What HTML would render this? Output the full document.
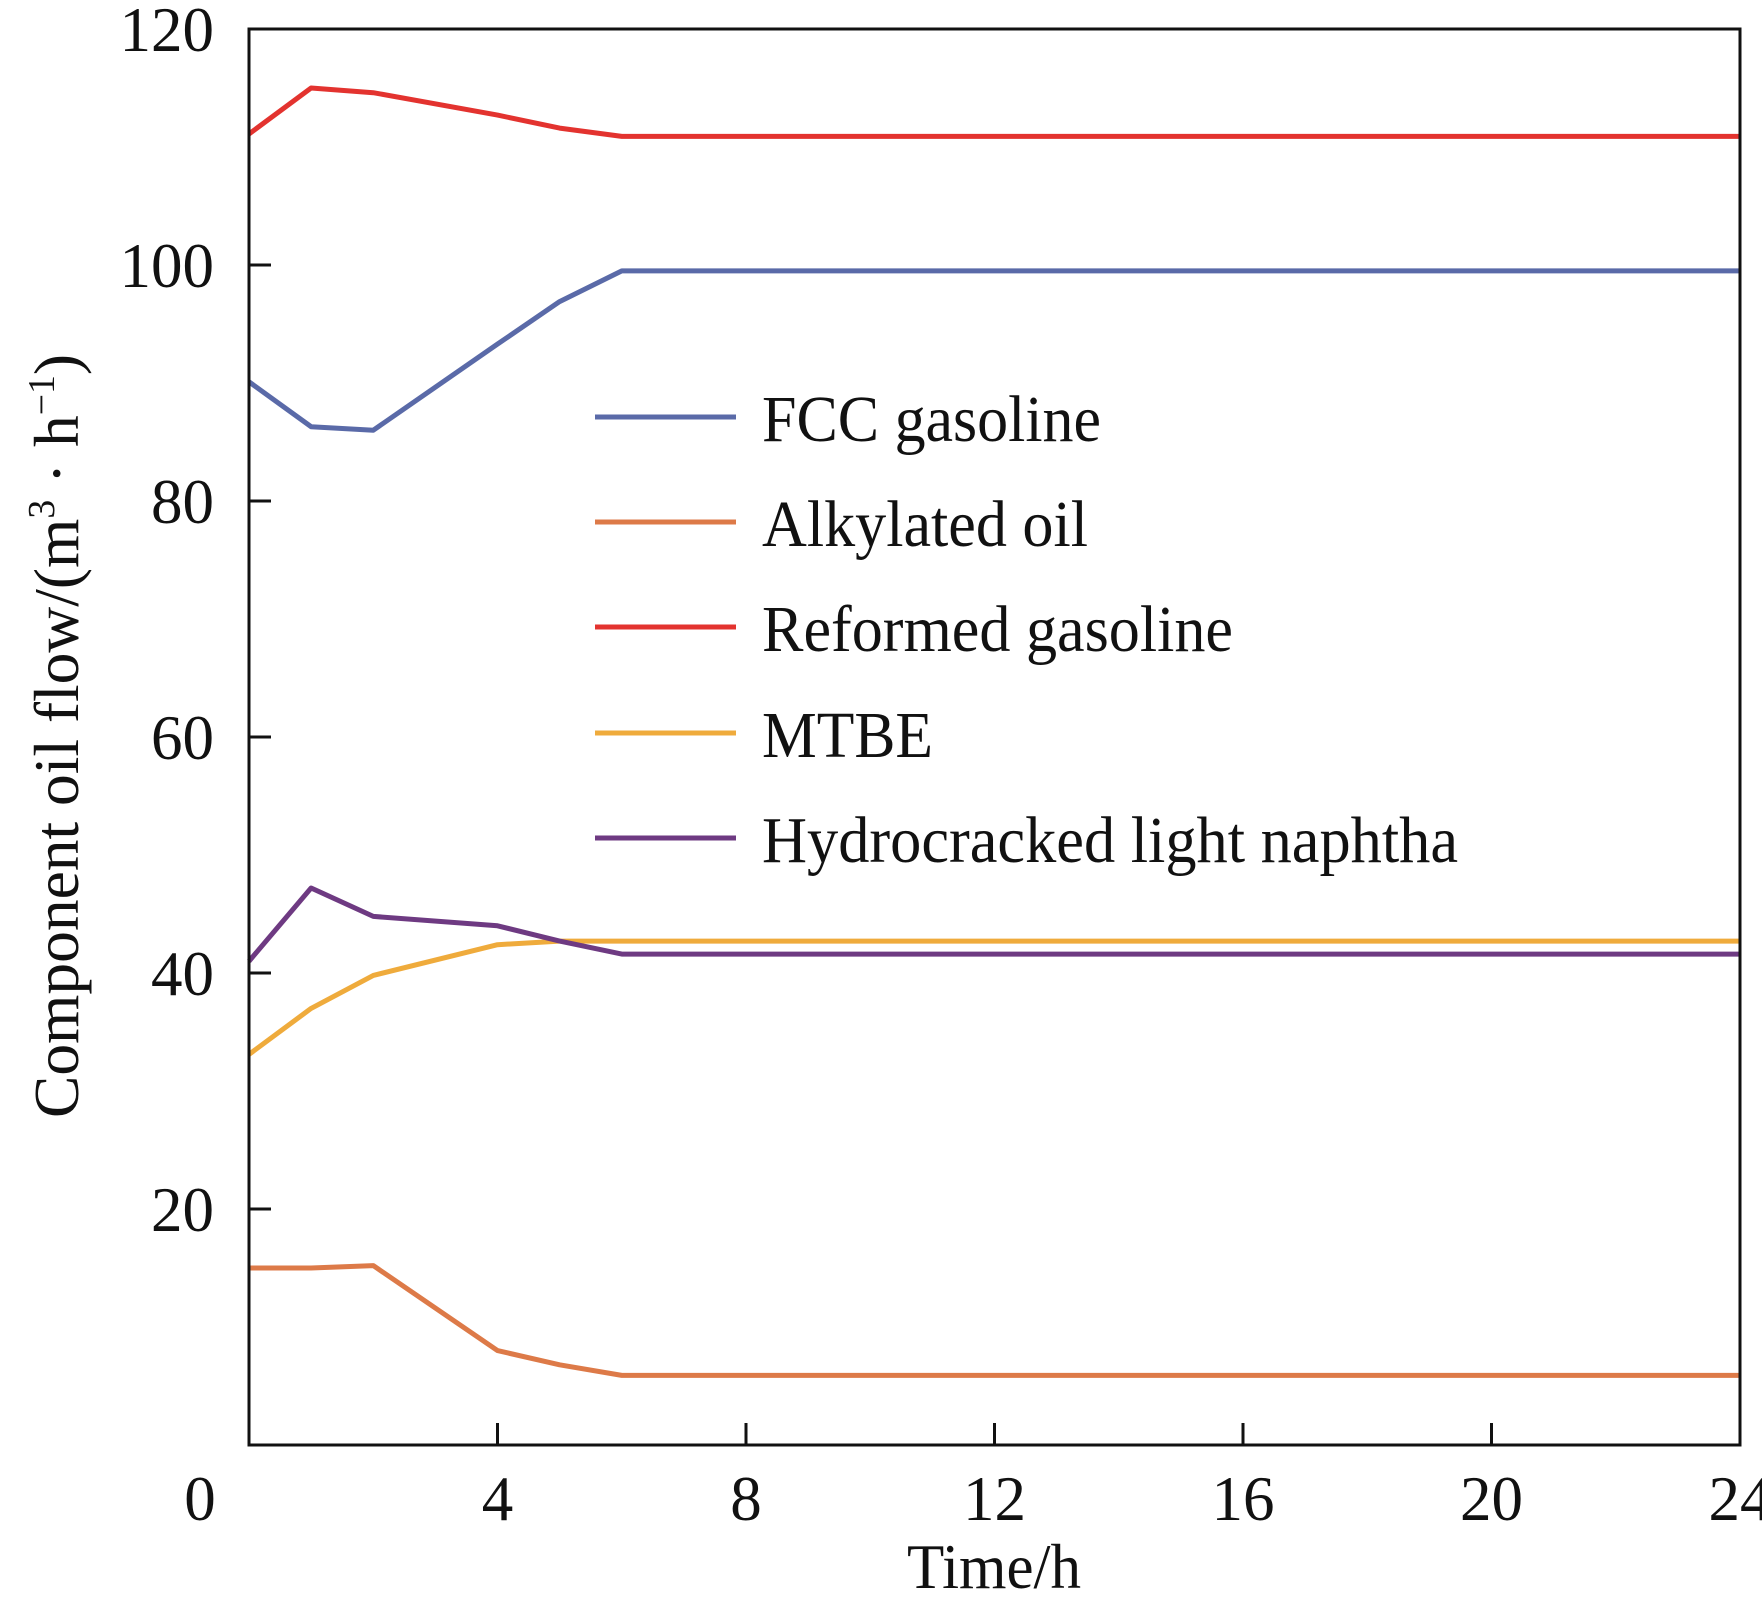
<!DOCTYPE html>
<html><head><meta charset="utf-8"><style>
html,body{margin:0;padding:0;background:#fff;}
svg{display:block;font-family:"Liberation Serif",serif;}
</style></head><body>
<svg id="chart" width="1762" height="1607" viewBox="0 0 1762 1607" xmlns="http://www.w3.org/2000/svg">
<g id="series"></g>
<g id="axes"></g>
<g id="legend"></g>
</svg>
<script>
const times = [0, 1, 2, 4, 5, 6, 24];
const fccGasoline = [90.1, 86.3, 86.0, 93.3, 96.9, 99.5, 99.5];
const alkylatedOil = [15.0, 15.0, 15.2, 8.0, 6.8, 5.9, 5.9];
const reformedGasoline = [111.1, 115.0, 114.6, 112.7, 111.6, 110.9, 110.9];
const mtbe = [33.1, 37.0, 39.8, 42.4, 42.7, 42.7, 42.7];
const hydrocrackedNaphtha = [41.0, 47.2, 44.8, 44.0, 42.7, 41.6, 41.6];
const seriesNames = ["FCC gasoline", "Alkylated oil", "Reformed gasoline", "MTBE", "Hydrocracked light naphtha"];
const xTicks = [0, 4, 8, 12, 16, 20, 24];
const yTicks = [20, 40, 60, 80, 100, 120];

const NS = "http://www.w3.org/2000/svg";
const L = 249, R = 1740, T = 29, B = 1445;
const xScale = v => L + (v - 0) / 24 * (R - L);
const yScale = v => B - (v - 0) / 120 * (B - T);
function mk(tag, attrs, parent, text) {
  const e = document.createElementNS(NS, tag);
  for (const k in attrs) e.setAttribute(k, attrs[k]);
  if (text !== undefined) e.textContent = text;
  parent.appendChild(e);
  return e;
}
const seriesG = document.getElementById('series');
const axesG = document.getElementById('axes');
const legendG = document.getElementById('legend');
const colors = ["#5a6aa8", "#dd7a48", "#e3332f", "#efab3c", "#6e3a82"];
const allSeries = [fccGasoline, alkylatedOil, reformedGasoline, mtbe, hydrocrackedNaphtha];
const seriesKeys = ["fcc-gasoline", "alkylated-oil", "reformed-gasoline", "mtbe", "hydrocracked-light-naphtha"];
const legendWidths = [339, 326, 471, 171, 696];

allSeries.forEach((vals, i) => {
  const pts = vals.map((v, j) => xScale(times[j]).toFixed(1) + "," + yScale(v).toFixed(1)).join(" ");
  const p = mk('polyline', {points: pts, fill: 'none', stroke: colors[i], 'stroke-width': 5, 'stroke-linejoin': 'round'}, seriesG);
  
  
});

const frame = mk('rect', {x: L, y: T, width: R - L, height: B - T, fill: 'none', stroke: '#111', 'stroke-width': 3}, axesG);



xTicks.forEach(t => {
  const x = xScale(t);
  if (t > 0 && t < 24) {
    const tk = mk('line', {x1: x, x2: x, y1: B, y2: B - 22, stroke: '#111', 'stroke-width': 3}, axesG);
    
    
  }
  const lb = mk('text', {x: t === 0 ? 200 : x, y: 1520, 'font-size': 63, 'text-anchor': 'middle', fill: '#111'}, axesG, String(t));
  
  
});
yTicks.forEach(t => {
  const y = yScale(t);
  if (t < 120) {
    const tk = mk('line', {x1: L, x2: L + 22, y1: y, y2: y, stroke: '#111', 'stroke-width': 3}, axesG);
    
    
  }
  const lb = mk('text', {x: 214, y: y + 22, 'font-size': 63, 'text-anchor': 'end', fill: '#111'}, axesG, String(t));
  
  
});

const xt = mk('text', {x: 994, y: 1588, 'font-size': 64, 'text-anchor': 'middle', textLength: 174, lengthAdjust: 'spacingAndGlyphs', fill: '#111'}, axesG, 'Time/h');



const yt = mk('text', {x: 0, y: 0, 'font-size': 64, 'text-anchor': 'middle', fill: '#111', textLength: 764, lengthAdjust: 'spacingAndGlyphs', transform: 'translate(78,736) rotate(-90)'}, axesG);


yt.innerHTML = 'Component oil flow/(m<tspan font-size="38" dy="-24">3</tspan><tspan dy="24"> · h</tspan><tspan font-size="38" dy="-24">−1</tspan><tspan dy="24">)</tspan>';

const legendY = [417, 522, 627, 733, 838];
seriesNames.forEach((n, i) => {
  const ln = mk('line', {x1: 595, x2: 736, y1: legendY[i], y2: legendY[i], stroke: colors[i], 'stroke-width': 5}, legendG);
  
  
  const tx = mk('text', {x: 762, y: legendY[i] + 24, 'font-size': 66, fill: '#111', textLength: legendWidths[i], lengthAdjust: 'spacingAndGlyphs'}, legendG, n);
  
  
});
</script>
</body></html>
